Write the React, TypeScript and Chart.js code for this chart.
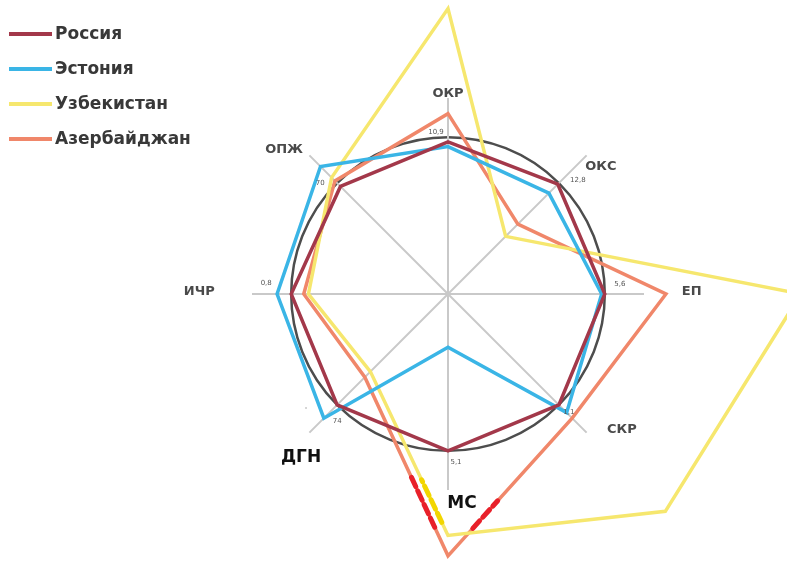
import React, { useEffect, useRef } from "react";
import { Chart, registerables } from "chart.js";

Chart.register(...registerables);

const categories = ["ОКР", "ОКС", "ЕП", "СКР", "МС", "ДГН", "ИЧР", "ОПЖ"];
const seriesNames = ["Россия", "Эстония", "Узбекистан", "Азербайджан"];
const russia = [0.97, 0.99, 1.0, 1.0, 1.0, 1.0, 1.0, 0.97];
const estonia = [0.94, 0.91, 0.98, 1.07, 0.34, 1.12, 1.09, 1.15];
const uzbekistan = [1.82, 0.52, 2.25, 1.96, 1.54, 0.7, 0.89, 1.05];
const azerbaijan = [1.15, 0.63, 1.39, 1.12, 1.67, 0.75, 0.92, 1.02];
const tickLabels = ["10,9", "12,8", "5,6", "1,1", "5,1", "74", "0,8", "70"];

const colors = ["#a3384a", "#3ab5e6", "#f6e76e", "#f0876a"];

// label placement (offsets from axis end, px)
const labelOffsets: [number, number][] = [
  [0, 0], [11, 15], [43, -2], [32, -6], [14, 9], [-5, 22], [-48, -2], [-22, -2],
];
const labelBlack = [false, false, false, false, true, true, false, false];
const tickOffsets: [number, number][] = [
  [-12, -5], [19, -3], [15, -10], [10, 7], [8, 11], [0, 16], [-25, -11], [-17, 0],
];

// highlight marks along segments near МС: [datasetIndex, fromIdx, toIdx, t0, t1, color]
const highlights: [number, number, number, number, number, string][] = [
  [3, 4, 5, 0.16, 0.44, "#e8202a"],
  [3, 4, 3, 0.2, 0.4, "#e8202a"],
  [2, 4, 5, 0.08, 0.34, "#f2d600"],
];

const labelPlugin = {
  id: "customLabels",
  afterDatasetsDraw(chart: any) {
    const scale = chart.scales.r;
    const ctx = chart.ctx;
    ctx.save();
    highlights.forEach(([di, a, b, t0, t1, col]) => {
      const data = chart.data.datasets[di].data as number[];
      const pa = scale.getPointPositionForValue(a, data[a]);
      const pb = scale.getPointPositionForValue(b, data[b]);
      ctx.beginPath();
      ctx.strokeStyle = col;
      ctx.lineWidth = 5;
      ctx.setLineDash([10, 5]);
      ctx.lineCap = "round";
      ctx.moveTo(pa.x + (pb.x - pa.x) * t0, pa.y + (pb.y - pa.y) * t0);
      ctx.lineTo(pa.x + (pb.x - pa.x) * t1, pa.y + (pb.y - pa.y) * t1);
      ctx.stroke();
    });
    ctx.setLineDash([]);
    ctx.restore();
  },
  afterDraw(chart: any) {
    const scale = chart.scales.r;
    const ctx = chart.ctx;
    ctx.save();
    ctx.textAlign = "center";
    ctx.textBaseline = "middle";
    categories.forEach((c, i) => {
      const p = scale.getPointPositionForValue(i, 1.28);
      ctx.fillStyle = labelBlack[i] ? "#111" : "#4a4a4a";
      ctx.font = labelBlack[i] ? 'bold 17px "DejaVu Sans"' : 'bold 13px "DejaVu Sans"';
      ctx.fillText(c, p.x + labelOffsets[i][0], p.y + labelOffsets[i][1]);
    });
    ctx.font = '7px "DejaVu Sans"';
    ctx.fillStyle = "#555";
    tickLabels.forEach((t, i) => {
      const p = scale.getPointPositionForValue(i, 1);
      ctx.fillText(t, p.x + tickOffsets[i][0], p.y + tickOffsets[i][1]);
    });
    const pd = scale.getPointPositionForValue(5, 1);
    ctx.fillText("-", pd.x - 31, pd.y + 3);
    // legend
    seriesNames.forEach((n, i) => {
      const y = 34 + i * 35;
      ctx.beginPath();
      ctx.strokeStyle = colors[i];
      ctx.lineWidth = 4;
      ctx.moveTo(9, y);
      ctx.lineTo(52, y);
      ctx.stroke();
      ctx.fillStyle = "#383838";
      ctx.font = 'bold 17px "DejaVu Sans"';
      ctx.textAlign = "left";
      ctx.fillText(n, 55, y + 1);
    });
    ctx.restore();
  },
};

export default function App() {
  const ref = useRef<HTMLCanvasElement>(null);
  useEffect(() => {
    if (!ref.current) return;
    const series = [russia, estonia, uzbekistan, azerbaijan];
    const chart = new Chart(ref.current, {
      type: "radar",
      data: {
        labels: categories,
        datasets: series.map((d, i) => ({
          label: seriesNames[i],
          data: d,
          borderColor: colors[i],
          backgroundColor: "transparent",
          borderWidth: 3.5,
          pointRadius: 0,
          fill: false,
          tension: 0,
          clip: false as any,
        })),
      },
      options: {
        animation: false,
        responsive: true,
        maintainAspectRatio: false,
        layout: { padding: { left: 200, right: 91, top: 98, bottom: 71 } },
        plugins: { legend: { display: false }, tooltip: { enabled: false } },
        scales: {
          r: {
            min: 0,
            max: 1.25,
            ticks: { display: false, stepSize: 1 },
            pointLabels: { display: false },
            angleLines: { color: "#c9c9c9", lineWidth: 2 },
            grid: {
              circular: true,
              lineWidth: 2.5,
              color: (ctx: any) =>
                ctx.tick && ctx.tick.value === 1 ? "#4d4d4d" : "rgba(0,0,0,0)",
            },
          },
        },
      },
      plugins: [labelPlugin],
    });
    return () => chart.destroy();
  }, []);
  return (
    <div style={{ position: "absolute", left: 0, top: 0, width: 787, height: 561, background: "#fff" }}>
      <canvas ref={ref} />
    </div>
  );
}
